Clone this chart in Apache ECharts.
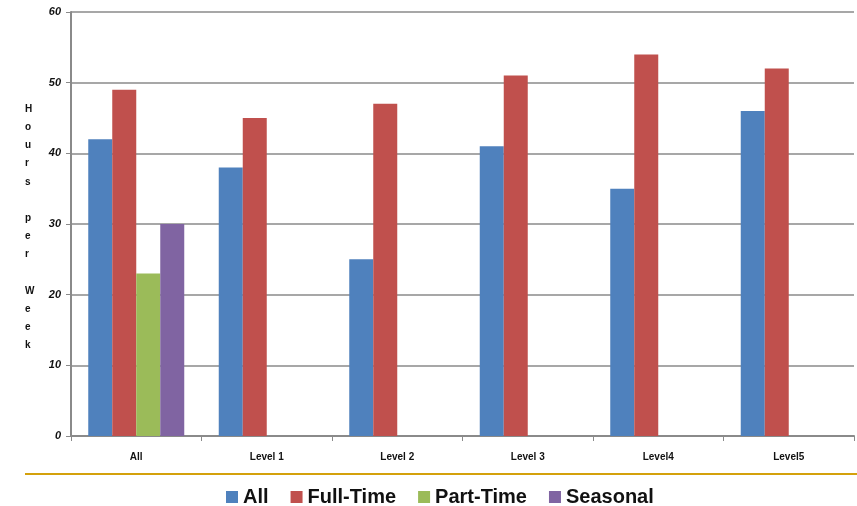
<!DOCTYPE html>
<html>
<head>
<meta charset="utf-8">
<script src="https://cdn.jsdelivr.net/npm/echarts@6/dist/echarts.min.js"></script>
<style>
  html, body { margin: 0; padding: 0; background: #fff; }
  #chart { width: 857px; height: 506px; }
</style>
</head>
<body>
<div id="chart"></div>
<script>
// Weekly hours by staff level and employment type
const categories = ['All', 'Level 1', 'Level 2', 'Level 3', 'Level4', 'Level5'];
const seriesNames = ['All', 'Full-Time', 'Part-Time', 'Seasonal'];
const allHours = [42, 38, 25, 41, 35, 46];
const fullTimeHours = [49, 45, 47, 51, 54, 52];
const partTimeHours = [23, null, null, null, null, null];
const seasonalHours = [30, null, null, null, null, null];
const yTicks = [0, 10, 20, 30, 40, 50, 60];
const yTitleLetters = ['H', 'o', 'u', 'r', 's', '', 'p', 'e', 'r', '', 'W', 'e', 'e', 'k'];

const colors = ['#4F81BD', '#C0504D', '#9BBB59', '#8064A2'];
const seriesData = [allHours, fullTimeHours, partTimeHours, seasonalHours];
const gridGray = '#8a8a8a';
const baseFont = '"Liberation Sans", Arial, sans-serif';

const chart = echarts.init(document.getElementById('chart'), null, { renderer: 'canvas' });

chart.setOption({
  animation: false,
  color: colors,
  grid: { left: 71, right: 3, top: 12, bottom: 70, containLabel: false },
  xAxis: {
    type: 'category',
    data: categories,
    axisLine: { show: true, lineStyle: { color: gridGray, width: 2 } },
    axisTick: { show: true, length: 5, lineStyle: { color: gridGray, width: 1 } },
    axisLabel: {
      color: '#111', fontSize: 10, fontWeight: 'bold',
      fontFamily: baseFont, margin: 16
    },
    splitLine: { show: false }
  },
  yAxis: {
    type: 'value',
    min: yTicks[0],
    max: yTicks[yTicks.length - 1],
    interval: 10,
    axisLine: { show: true, lineStyle: { color: gridGray, width: 2 } },
    axisTick: { show: true, length: 5, lineStyle: { color: gridGray, width: 1 } },
    axisLabel: {
      color: '#111', fontSize: 11, fontStyle: 'italic', fontWeight: 'bold',
      fontFamily: baseFont, margin: 10
    },
    splitLine: { show: true, lineStyle: { color: gridGray, width: 1.5 } }
  },
  legend: {
    data: seriesNames,
    left: 221,
    top: 482,
    icon: 'rect',
    itemWidth: 12,
    itemHeight: 12,
    itemGap: 22,
    textStyle: { color: '#111', fontSize: 20, fontWeight: 'bold', fontFamily: baseFont }
  },
  series: seriesNames.map((name, i) => ({
    name: name,
    type: 'bar',
    data: seriesData[i],
    barWidth: 24,
    barGap: '0%',
    itemStyle: { color: colors[i] }
  })),
  graphic: [
    {
      type: 'text',
      left: 25,
      top: 100,
      style: {
        text: yTitleLetters.join('\n'),
        fontSize: 10,
        fontWeight: 'bold',
        fontFamily: baseFont,
        lineHeight: 18.2,
        fill: '#111',
        align: 'center'
      }
    },
    {
      type: 'line',
      shape: { x1: 25, y1: 474, x2: 857, y2: 474 },
      style: { stroke: '#D4A10C', lineWidth: 2 }
    }
  ]
});
</script>
</body>
</html>
